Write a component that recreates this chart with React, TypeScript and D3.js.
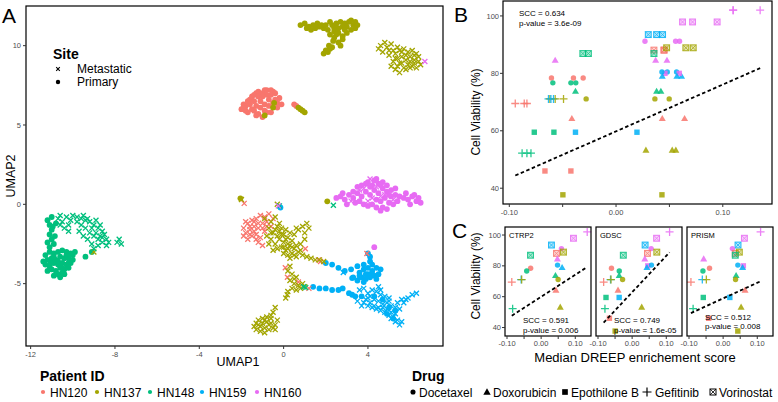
import React from 'react';
import * as d3 from 'd3';

type Pt = [number, number];

const FONT = "'Liberation Sans', Arial, Helvetica, sans-serif";

// ---------- categories ----------
const patientIds = ['HN120', 'HN137', 'HN148', 'HN159', 'HN160'];
const patientColors = ['#F8766D', '#A3A500', '#00BF7D', '#00B0F6', '#E76BF3'];
const drugNames = ['Docetaxel', 'Doxorubicin', 'Epothilone B', 'Gefitinib', 'Vorinostat'];
const datasetNames = ['CTRP2', 'GDSC', 'PRISM'];

// ---------- Panel A: UMAP coordinates ----------
const hn120Primary: Pt[] = [[-2.0,6.0],[-1.9,6.3],[-1.8,6.2],[-1.7,6.5],[-1.6,6.6],[-1.5,6.8],[-1.4,6.9],[-1.3,7.0],[-1.2,7.1],[-1.0,7.0],[-0.9,7.2],[-0.8,7.2],[-0.6,7.2],[-0.5,7.1],[-0.4,7.0],[-0.2,6.7],[-0.3,6.4],[-0.5,6.4],[-0.7,6.6],[-0.9,6.3],[-1.1,6.5],[-1.3,6.2],[-1.5,6.0],[-1.7,5.8],[-1.2,5.7],[-0.9,5.9],[-0.6,5.8],[-0.3,6.1],[-1.0,5.5],[-1.4,5.9],[-0.8,6.9],[-1.6,6.3],[-1.1,6.1],[-0.7,6.2],[-1.2,6.8],[-0.1,6.3],[0.5,6.3],[0.6,6.2],[-1.8,5.9],[-1.9,6.1],[-1.4,6.5],[-1.0,6.8],[-0.6,6.9],[-0.4,6.6],[-0.8,5.8],[-1.3,5.6]];
const hn120Metastatic: Pt[] = [[-1.9,-1.5],[-1.7,-1.2],[-1.5,-1.0],[-1.3,-0.9],[-1.1,-0.7],[-0.9,-0.8],[-0.7,-0.6],[-1.8,-1.8],[-1.6,-1.6],[-1.4,-1.4],[-1.2,-1.5],[-1.0,-1.2],[-0.8,-1.1],[-1.5,-2.0],[-1.3,-1.9],[-1.1,-2.1],[-0.9,-1.7],[-1.7,-2.2],[-0.6,-1.4],[-1.2,-2.4],[-0.5,-0.9],[-1.0,-2.6],[-1.6,-1.9],[-1.4,-1.1],[-1.8,-1.1],[-1.4,-1.7],[-1.2,-1.2],[-1.0,-1.5],[-0.8,-1.4],[-1.6,-1.4],[-1.9,-2.0],[-1.3,-2.2],[-1.87,0.06],[1.65,-3.5],[1.75,-3.6],[0.08,-4.0],[0.18,-4.6],[0.7,-4.9],[1.03,-2.8],[3.95,-3.1],[1.2,-5.3]];
const hn137Primary: Pt[] = [[0.8,11.3],[1.0,11.4],[1.2,11.2],[1.4,11.3],[1.6,11.4],[1.7,11.2],[1.9,11.1],[1.1,11.1],[2.1,11.0],[2.3,11.3],[2.5,11.4],[2.7,11.5],[2.9,11.4],[3.1,11.5],[3.3,11.3],[3.4,11.1],[2.6,11.1],[2.8,11.2],[3.0,11.2],[2.2,10.7],[2.4,10.9],[3.2,11.0],[2.6,10.8],[2.4,10.5],[3.0,10.8],[2.8,10.4],[2.6,10.2],[2.3,9.9],[2.0,9.7],[1.9,9.5],[2.1,9.6],[2.7,10.0],[2.2,9.8],[3.5,11.3],[2.9,11.0],[1.3,11.0],[1.5,11.1],[1.8,11.3],[2.0,11.3],[2.2,11.5],[2.4,11.1],[3.2,11.6],[3.4,11.5],[2.5,10.7],[2.35,10.3],[2.15,10.0],[2.8,10.6],
  [-0.45,6.4],[-0.5,6.1],[-0.9,5.6],[0.7,6.1],[0.8,6.0],[0.9,5.9],[1.0,5.8],[-2.05,0.38],[2.07,0.19]];
const hn137Metastatic: Pt[] = [[4.5,9.8],[4.6,10.0],[4.8,10.2],[4.9,9.9],[5.0,9.7],[4.7,9.6],[5.1,10.1],[5.3,9.5],[5.5,9.7],[5.7,9.8],[5.9,9.6],[6.1,9.7],[6.3,9.5],[5.4,9.2],[5.6,9.3],[5.8,9.1],[6.0,9.3],[6.2,9.1],[6.4,9.0],[6.5,8.8],[5.5,8.9],[5.7,8.6],[5.9,8.8],[6.1,8.7],[5.3,8.5],[5.5,8.3],[6.3,8.6],[5.6,9.6],[6.0,9.0],[5.2,9.0],[5.8,9.4],[6.2,9.4],[5.4,8.7],[5.0,9.4],[5.2,9.7],[5.4,9.9],[5.6,8.9],[5.8,8.5],[6.0,8.6],[6.2,8.9],[6.4,9.3],[5.1,8.7],[5.3,9.2],
  [-0.9,-0.9],[-0.6,-1.1],[-0.4,-0.8],[-0.7,-1.5],[-0.5,-1.8],[-0.3,-1.4],[-0.1,-1.9],[0.1,-1.6],[-0.6,-2.2],[-0.4,-2.5],[-0.2,-2.2],[0.0,-2.4],[0.2,-2.1],[0.4,-2.3],[-0.3,-2.8],[-0.1,-2.7],[0.1,-2.9],[0.3,-2.6],[0.5,-2.8],[0.7,-3.0],[0.2,-3.2],[0.4,-3.1],[0.6,-3.3],[0.9,-3.2],[1.1,-3.3],[1.3,-3.4],[1.5,-3.5],[1.7,-3.5],[1.9,-3.6],[0.5,-1.9],[0.7,-1.6],[0.9,-1.4],[1.1,-1.2],[0.6,-1.5],[1.0,-1.8],[-0.8,-2.0],[-0.2,-1.2],[0.3,-1.8],[0.0,-3.1],[0.8,-2.5],[-0.3,-2.0],[0.1,-2.2],[-0.5,-2.9],[-0.4,-1.6],[-0.2,-1.7],[0.0,-1.9],[0.2,-2.5],[0.4,-2.7],[0.6,-2.6],[-0.6,-1.8],[0.0,-2.7],[0.2,-2.8],[0.8,-2.9],[0.3,-3.4],[0.5,-3.2],[1.2,-1.5],[1.0,-2.2],[-0.7,-2.5],[-0.1,-1.5],
  [0.2,-4.2],[0.4,-4.4],[0.6,-4.6],[0.3,-4.8],[0.5,-5.0],[0.7,-5.1],[0.9,-5.0],[0.4,-5.3],[0.6,-5.4],[0.8,-5.3],[1.0,-5.2],[0.2,-5.5],[0.1,-5.9],[0.3,-3.9],[0.5,-4.7],[0.17,-5.7],
  [-1.4,-7.7],[-1.2,-7.6],[-1.0,-7.5],[-0.8,-7.4],[-0.6,-7.5],[-0.4,-7.6],[-0.3,-7.3],[-1.3,-7.9],[-1.1,-8.0],[-0.9,-7.8],[-0.7,-7.9],[-0.5,-7.8],[-1.0,-7.2],[-0.8,-7.1],[-0.6,-7.0],[-0.5,-6.8],[-0.4,-6.5],[-0.9,-8.1],[-0.6,-7.2],[-1.2,-7.3],[-1.1,-7.7],[-0.7,-7.6],[-0.9,-7.3],[-1.3,-7.5],[-0.4,-7.9],
  [-2.0,0.3],[-0.3,0.0],[-9.0,-3.0]];
const hn148Primary: Pt[] = [[-11.2,-1.0],[-11.1,-1.3],[-11.0,-1.6],[-11.1,-1.9],[-11.0,-2.2],[-10.9,-2.5],[-11.1,-2.7],[-10.8,-1.2],[-11.3,-3.2],[-11.1,-3.0],[-10.9,-3.1],[-10.7,-3.0],[-10.5,-2.9],[-10.3,-3.0],[-10.1,-3.1],[-9.9,-3.0],[-11.2,-3.5],[-11.0,-3.4],[-10.8,-3.5],[-10.6,-3.3],[-10.4,-3.4],[-10.2,-3.4],[-10.0,-3.5],[-11.3,-3.8],[-11.1,-3.9],[-10.9,-3.7],[-10.7,-3.8],[-10.5,-3.7],[-10.3,-3.8],[-10.1,-3.7],[-11.0,-4.1],[-10.8,-4.2],[-10.6,-4.0],[-10.4,-4.1],[-10.2,-4.0],[-10.7,-4.4],[-10.5,-4.3],[-10.9,-4.5],[-11.4,-3.6],[-10.6,-4.6],[-9.4,-3.3],[-9.1,-3.0],[-11.0,-0.8],[-10.85,-2.0],[-11.2,-4.2],[-10.9,-3.3],[-10.7,-3.6],[-10.5,-4.0],[-10.3,-3.2],[-10.0,-3.2],[-10.2,-3.7],[-10.4,-4.4],[-11.2,-2.4],[-10.95,-1.4],[-11.05,-3.7]];
const hn148Metastatic: Pt[] = [[-10.7,-0.9],[-10.5,-1.1],[-10.3,-0.8],[-10.1,-1.0],[-10.4,-1.5],[-10.2,-1.7],[-10.6,-1.3],[-9.8,-0.8],[-9.6,-0.9],[-9.4,-1.0],[-9.2,-1.1],[-9.0,-1.3],[-8.8,-1.5],[-8.6,-1.7],[-8.5,-1.9],[-8.4,-2.2],[-8.6,-2.4],[-8.8,-2.2],[-9.0,-2.0],[-9.2,-1.8],[-9.4,-1.5],[-9.6,-1.3],[-8.9,-1.8],[-8.7,-2.0],[-9.1,-2.5],[-9.3,-2.2],[-8.4,-2.6],[-7.9,-2.4],[-7.7,-2.5],[-7.8,-2.2],[-9.5,-2.0],[-9.7,-1.7],[-9.0,-2.8],[-10.6,-0.7],[-10.0,-0.7],[-9.5,-0.7],[-9.3,-0.9],[-9.1,-1.5],[-8.9,-1.0],[-8.7,-1.3],[-8.6,-2.1],[-8.8,-2.6],[-9.8,-1.1],[-10.2,-1.3],[-8.3,-2.4],
  [0.95,-5.2],[1.05,-5.25],[2.36,-0.06],[-0.2,-0.1]];
const hn159Primary: Pt[] = [[2.0,-3.7],[2.3,-3.8],[2.6,-4.0],[2.9,-4.2],[3.2,-4.1],[3.5,-3.9],[3.3,-4.6],[3.6,-4.3],[3.8,-4.1],[4.0,-4.0],[4.2,-4.2],[4.4,-4.0],[4.6,-4.1],[3.7,-4.6],[3.9,-4.7],[4.1,-4.6],[4.3,-4.5],[4.0,-4.4],[3.5,-4.8],[4.1,-3.6],[4.1,-3.3],[4.0,-3.1],[4.2,-3.8],[3.8,-3.8],[4.5,-4.4],[3.25,-4.65],[3.6,-4.5],[3.9,-4.4],[4.2,-4.4],[4.4,-4.7],[3.8,-4.9],
  [1.4,-5.2],[1.7,-5.3],[2.0,-5.3],[2.3,-5.4],[2.6,-5.4],[2.8,-5.3],[3.1,-5.6],[3.4,-5.8],[3.7,-5.8],[3.25,-5.7],[4.3,-5.8],[4.7,-6.0],[5.0,-6.5],[4.9,-6.9],[5.3,-6.7],[5.2,-7.2],[-0.15,-0.2]];
const hn159Metastatic: Pt[] = [[3.6,-5.4],[3.8,-5.3],[4.0,-5.6],[4.2,-5.4],[4.4,-5.5],[4.6,-5.7],[4.8,-5.8],[5.0,-5.9],[3.9,-6.0],[4.1,-6.2],[4.3,-6.0],[4.5,-6.1],[4.7,-6.3],[4.9,-6.2],[5.1,-6.4],[5.3,-6.5],[4.4,-6.6],[4.6,-6.7],[4.8,-6.8],[5.0,-7.0],[5.2,-7.1],[5.4,-7.3],[5.6,-7.4],[5.1,-6.8],[5.3,-6.9],[5.5,-6.6],[5.7,-6.2],[5.9,-5.9],[6.1,-5.7],[6.3,-5.6],[3.5,-6.1],[3.7,-6.4],[4.2,-6.5],[5.5,-7.6],[4.0,-5.9],[4.5,-5.2],[4.1,-5.8],[4.3,-6.4],[4.5,-6.5],[4.7,-6.5],[4.9,-6.6],[5.1,-7.2],[5.3,-7.4],[5.4,-6.2],[5.6,-6.0],[5.8,-6.0],[5.0,-6.1],[4.6,-5.4],[3.8,-6.2],[4.0,-6.4],[2.83,-4.3]];
const hn160Primary: Pt[] = [[2.5,0.4],[2.7,0.5],[2.9,0.3],[3.1,0.6],[3.3,0.4],[3.5,0.7],[3.7,0.5],[3.9,0.8],[4.1,0.6],[4.3,0.9],[4.5,0.7],[4.7,1.0],[4.9,0.8],[5.1,0.9],[5.3,0.6],[4.4,0.3],[4.6,0.2],[4.8,0.4],[5.0,0.1],[4.7,-0.2],[4.9,-0.3],[5.5,0.5],[5.7,0.4],[5.9,0.3],[6.1,0.5],[6.3,0.2],[6.5,0.1],[3.0,0.0],[3.4,0.1],[4.2,1.2],[4.0,1.4],[4.3,1.5],[3.6,0.2],[3.5,1.1],[3.7,1.2],[3.9,1.3],[4.1,1.1],[4.5,1.3],[4.7,1.4],[4.4,1.6],[4.6,1.2],[4.9,1.2],[5.1,0.5],[5.3,1.0],[5.0,0.6],[3.8,0.0],[4.0,-0.1],[4.2,0.0],[4.4,-0.2],[4.6,-0.4],[5.2,0.0],[5.4,0.2],[3.3,0.8],[2.8,0.7],[6.0,0.0],[5.8,0.7],[6.2,0.6],[6.4,0.4],[4.3,-2.7]];
const hn160Metastatic: Pt[] = [[3.8,1.0],[4.0,0.2],[4.2,0.4],[4.4,1.1],[4.6,0.5],[3.2,0.2],[3.6,0.9],[4.1,1.6],[5.2,0.3],[4.8,0.6],[6.7,9.0],[-0.25,-0.1]];

const umapGroups = [
  { patient: 0, site: 'Primary', points: hn120Primary },
  { patient: 1, site: 'Primary', points: hn137Primary },
  { patient: 2, site: 'Primary', points: hn148Primary },
  { patient: 3, site: 'Primary', points: hn159Primary },
  { patient: 4, site: 'Primary', points: hn160Primary },
  { patient: 0, site: 'Metastatic', points: hn120Metastatic },
  { patient: 1, site: 'Metastatic', points: hn137Metastatic },
  { patient: 2, site: 'Metastatic', points: hn148Metastatic },
  { patient: 3, site: 'Metastatic', points: hn159Metastatic },
  { patient: 4, site: 'Metastatic', points: hn160Metastatic },
];
const umapXTicks = [-12, -8, -4, 0, 4];
const umapYTicks = [-5, 0, 5, 10];

// ---------- Panels B/C: drug response ----------
const respPatient = [4, 4, 3, 4, 0, 1, 2, 4, 4, 3, 3, 0, 2, 2, 3, 1, 1, 0, 0, 2, 3, 2, 1, 0, 1];
const respDrug =    [3, 4, 4, 0, 4, 4, 4, 1, 2, 0, 1, 0, 0, 1, 3, 3, 0, 3, 1, 2, 2, 3, 1, 2, 2];
const viability = [102, 97.9, 93.5, 91.2, 88.1, 88.9, 86.9, 84.6, 80.0, 80.5, 79.0, 78.4, 76.7, 73.8, 71.1, 71.1, 71.1, 69.5, 64.3, 59.5, 59.5, 52.2, 53.3, 46.0, 37.7];
const scoreCTRP2 = [0.135, 0.0947, 0.0302, 0.0595, 0.045, 0.0654, -0.0311, 0.0477, null, 0.048, 0.0614, -0.0308, -0.0423, 0.042, -0.0586, -0.057, 0.0498, -0.086, 0.0433, null, null, -0.0835, 0.056, null, null];
const scoreGDSC = [0.1097, 0.0717, 0.038, 0.0558, 0.0449, 0.0723, -0.0259, 0.0371, 0.0458, 0.0567, 0.0433, -0.0605, -0.0377, -0.038, -0.0633, -0.062, -0.028, -0.0835, -0.0414, -0.0766, -0.038, -0.0797, 0.028, -0.0666, -0.0498];
const scorePRISM = [0.1097, 0.0623, 0.0436, 0.0271, 0.0355, 0.0474, 0.0355, -0.057, 0.0592, 0.043, 0.057, -0.0399, -0.0592, 0.038, -0.061, -0.0492, 0.0364, -0.0944, 0.0642, -0.0582, 0.0196, -0.088, 0.0526, -0.0423, 0.043];
const datasetScores = [scoreCTRP2, scoreGDSC, scorePRISM];
const datasetSCC = ['0.591', '0.749', '0.512'];
const datasetPValue = ['0.006', '1.6e-05', '0.008'];
const datasetFitSlope = [143, 235.8, 101];
const datasetFitIntercept = [59.96, 62.9, 58.9];
const allSCC = '0.634';
const allPValue = '3.6e-09';
const allFitSlope = 163;
const allFitIntercept = 59.8;
const viabTicks = [40, 60, 80, 100];
const scoreTicks = [-0.1, -0.05, 0, 0.05, 0.1];
const scoreLabelTicks = [-0.1, 0, 0.1];

// ---------- helpers ----------
function Mark({ shape, x, y, color, opacity = 1, k = 1 }: any) {
  if (shape === 0) return <circle cx={x} cy={y} r={2.7 * k} fill={color} opacity={opacity} />;
  if (shape === 1) {
    const h = 3.5 * k;
    return <path d={`M${x},${y - h}L${x + h},${y + h * 0.75}L${x - h},${y + h * 0.75}Z`} fill={color} opacity={opacity} />;
  }
  if (shape === 2) {
    const h = 2.7 * k;
    return <rect x={x - h} y={y - h} width={2 * h} height={2 * h} fill={color} opacity={opacity} />;
  }
  if (shape === 3) {
    const h = 4 * k;
    return <path d={`M${x - h},${y}H${x + h}M${x},${y - h}V${y + h}`} stroke={color} strokeWidth={1.3} fill="none" opacity={opacity} />;
  }
  const h = 2.9 * k;
  return (
    <g opacity={opacity}>
      <rect x={x - h} y={y - h} width={2 * h} height={2 * h} fill={color} fillOpacity={0.35} stroke={color} strokeWidth={1.1} />
      <path d={`M${x - h},${y - h}L${x + h},${y + h}M${x + h},${y - h}L${x - h},${y + h}`} stroke={color} strokeWidth={0.9} />
    </g>
  );
}

function Cross({ x, y, color, h = 2.5, w = 1.3 }: any) {
  return <path d={`M${x - h},${y - h}L${x + h},${y + h}M${x + h},${y - h}L${x - h},${y + h}`} stroke={color} strokeWidth={w} />;
}

const tickColor = '#4D4D4D';

export default function App() {
  // Panel A scales
  const xA = d3.scaleLinear().domain([-12.22, 7.56]).range([26, 443]);
  const yA = d3.scaleLinear().domain([-8.93, 12.5]).range([346, 6]);

  // Panel B scales
  const xDomain = [-0.1059, 0.1461];
  const yDomain = [34.5, 105.2];
  const xB = d3.scaleLinear().domain(xDomain).range([503, 772]);
  const yB = d3.scaleLinear().domain(yDomain).range([204, 1]);

  // Panel C
  const cLeft = [505, 596, 687];
  const cWidth = 86;
  const yC = d3.scaleLinear().domain(yDomain).range([336, 227]);

  const allPoints: any[] = [];
  datasetScores.forEach((sc, di) => {
    sc.forEach((v, i) => {
      if (v !== null) allPoints.push({ ds: di, x: v, y: viability[i], p: respPatient[i], d: respDrug[i] });
    });
  });

  const fitLine = (xs: any, ys: any, pts: any[], slope: number, intercept: number) => {
    const ext = d3.extent(pts, (p: any) => p.x) as [number, number];
    return (
      <line x1={xs(ext[0])} y1={ys(intercept + slope * ext[0])} x2={xs(ext[1])} y2={ys(intercept + slope * ext[1])}
        stroke="#000" strokeWidth={1.8} strokeDasharray="3.5,2.5" />
    );
  };

  const legendPatientDotX = [43, 97, 150, 202, 257];
  const legendDrugX = [413, 487, 565, 647, 713];

  return (
    <svg width={778} height={402} style={{ position: 'absolute', left: 0, top: 0, background: '#fff' }} fontFamily={FONT}>
      <rect x={0} y={0} width={778} height={402} fill="#fff" />
      {/* ================= Panel A ================= */}
      <text x={2} y={23} fontSize={21}>A</text>
      <g>
        {umapGroups.map((g, gi) =>
          g.points.map((p, i) =>
            g.site === 'Primary'
              ? <circle key={`${gi}-${i}`} cx={xA(p[0])} cy={yA(p[1])} r={2.9} fill={patientColors[g.patient]} />
              : <Cross key={`${gi}-${i}`} x={xA(p[0])} y={yA(p[1])} color={patientColors[g.patient]} />
          )
        )}
      </g>
      <rect x={26} y={6} width={417} height={340} fill="none" stroke="#000" strokeWidth={1.2} />
      {umapXTicks.map((t) => (
        <g key={`ax${t}`}>
          <line x1={xA(t)} x2={xA(t)} y1={346} y2={349} stroke="#333" />
          <text x={xA(t)} y={357} fontSize={7.5} textAnchor="middle" fill={tickColor}>{t}</text>
        </g>
      ))}
      {umapYTicks.map((t) => (
        <g key={`ay${t}`}>
          <line x1={23} x2={26} y1={yA(t)} y2={yA(t)} stroke="#333" />
          <text x={21} y={yA(t) + 2.6} fontSize={7.5} textAnchor="end" fill={tickColor}>{t}</text>
        </g>
      ))}
      <text x={238} y={366} fontSize={12.5} textAnchor="middle">UMAP1</text>
      <text transform="translate(15,176) rotate(-90)" fontSize={12.5} textAnchor="middle">UMAP2</text>

      {/* Site legend */}
      <text x={53} y={59} fontSize={14} fontWeight="bold">Site</text>
      <Cross x={58} y={69} color="#000" h={1.8} w={1.1} />
      <text x={77} y={73} fontSize={12}>Metastatic</text>
      <circle cx={58} cy={82} r={2.2} fill="#000" />
      <text x={77} y={86} fontSize={12}>Primary</text>

      {/* Patient legend */}
      <text x={40} y={381} fontSize={14} fontWeight="bold">Patient ID</text>
      {patientIds.map((id, i) => (
        <g key={id}>
          <circle cx={legendPatientDotX[i]} cy={392} r={2.1} fill={patientColors[i]} />
          <text x={legendPatientDotX[i] + 7} y={396.5} fontSize={12}>{id}</text>
        </g>
      ))}

      {/* ================= Panel B ================= */}
      <text x={454} y={22} fontSize={21}>B</text>
      {allPoints.map((p, i) => (
        <Mark key={`b${i}`} shape={p.d} x={xB(p.x)} y={yB(p.y)} color={patientColors[p.p]} opacity={0.85} />
      ))}
      {fitLine(xB, yB, allPoints, allFitSlope, allFitIntercept)}
      <text x={519} y={16} fontSize={8}>SCC = {allSCC}</text>
      <text x={519} y={26} fontSize={8}>p-value = {allPValue}</text>
      <rect x={503} y={1} width={269} height={203} fill="none" stroke="#000" strokeWidth={1.2} />
      {viabTicks.map((t) => (
        <g key={`by${t}`}>
          <line x1={500} x2={503} y1={yB(t)} y2={yB(t)} stroke="#333" />
          <text x={499} y={yB(t) + 2.6} fontSize={7.5} textAnchor="end" fill={tickColor}>{t}</text>
        </g>
      ))}
      {scoreTicks.map((t) => (
        <line key={`bx${t}`} x1={xB(t)} x2={xB(t)} y1={204} y2={207} stroke="#333" />
      ))}
      {scoreLabelTicks.map((t) => (
        <text key={`bxl${t}`} x={xB(t)} y={215} fontSize={7.5} textAnchor="middle" fill={tickColor}>{d3.format('.2f')(t).replace('−', '-')}</text>
      ))}
      <text transform="translate(480,112) rotate(-90)" fontSize={12} textAnchor="middle">Cell Viability (%)</text>

      {/* ================= Panel C ================= */}
      <text x={452} y={238} fontSize={21}>C</text>
      {datasetNames.map((name, di) => {
        const xC = d3.scaleLinear().domain(xDomain).range([cLeft[di], cLeft[di] + cWidth]);
        const pts = allPoints.filter((p) => p.ds === di);
        return (
          <g key={name}>
            {pts.map((p, i) => (
              <Mark key={`c${di}-${i}`} shape={p.d} x={xC(p.x)} y={yC(p.y)} color={patientColors[p.p]} opacity={0.85} />
            ))}
            {fitLine(xC, yC, pts, datasetFitSlope[di], datasetFitIntercept[di])}
            <text x={cLeft[di] + 4} y={238} fontSize={7.5}>{name}</text>
            <text x={cLeft[di] + 18} y={di === 2 ? 320 : 323} fontSize={8}>SCC = {datasetSCC[di]}</text>
            <text x={cLeft[di] + 18} y={di === 2 ? 329 : 333} fontSize={8}>p-value = {datasetPValue[di]}</text>
            <rect x={cLeft[di]} y={227} width={cWidth} height={109} fill="none" stroke="#000" strokeWidth={1.2} />
            {scoreTicks.map((t) => (
              <line key={`cx${t}`} x1={xC(t)} x2={xC(t)} y1={336} y2={339} stroke="#333" />
            ))}
            {scoreLabelTicks.map((t) => (
              <text key={`cxl${t}`} x={xC(t)} y={346} fontSize={7.5} textAnchor="middle" fill={tickColor}>{d3.format('.2f')(t).replace('−', '-')}</text>
            ))}
          </g>
        );
      })}
      {viabTicks.map((t) => (
        <g key={`cy${t}`}>
          <line x1={502} x2={505} y1={yC(t)} y2={yC(t)} stroke="#333" />
          <text x={501} y={yC(t) + 2.6} fontSize={7.5} textAnchor="end" fill={tickColor}>{t}</text>
        </g>
      ))}
      <text transform="translate(480,276) rotate(-90)" fontSize={12} textAnchor="middle">Cell Viability (%)</text>
      <text x={635} y={362} fontSize={13} textAnchor="middle">Median DREEP enrichement score</text>

      {/* Drug legend */}
      <text x={412} y={381} fontSize={14} fontWeight="bold">Drug</text>
      {drugNames.map((dn, i) => (
        <g key={dn}>
          {i === 3
            ? <path d={`M${legendDrugX[i] - 4.5},392H${legendDrugX[i] + 4.5}M${legendDrugX[i]},387.5V396.5`} stroke="#000" strokeWidth={1.2} />
            : i === 4
              ? <g>
                  <rect x={legendDrugX[i] - 3} y={389} width={6} height={6} fill="none" stroke="#000" strokeWidth={1} />
                  <path d={`M${legendDrugX[i] - 3},389L${legendDrugX[i] + 3},395M${legendDrugX[i] + 3},389L${legendDrugX[i] - 3},395`} stroke="#000" strokeWidth={0.8} />
                </g>
              : <Mark shape={i} x={legendDrugX[i]} y={392} color="#000" k={i === 0 ? 0.95 : 1.05} />}
          <text x={legendDrugX[i] + (i === 3 ? 8 : 6)} y={396.5} fontSize={12}>{dn}</text>
        </g>
      ))}
    </svg>
  );
}
